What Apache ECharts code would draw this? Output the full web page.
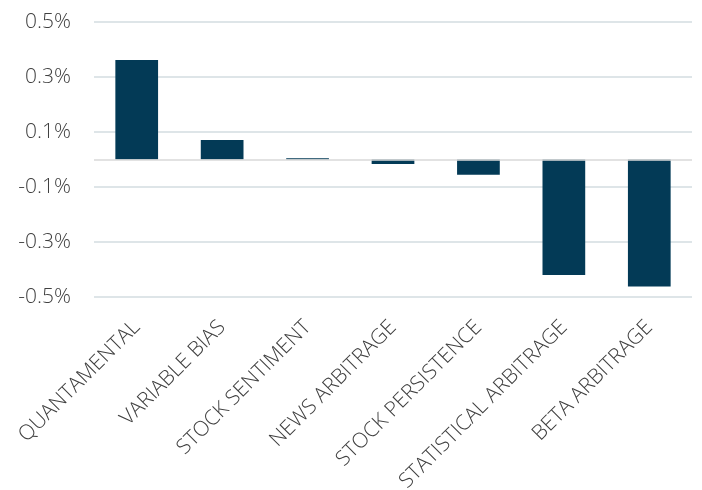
<!DOCTYPE html>
<html><head><meta charset="utf-8">
<script src="https://cdn.jsdelivr.net/npm/echarts@6/dist/echarts.min.js"></script>
<style>html,body{margin:0;padding:0;background:#fff}#c{width:702px;height:490px}</style>
</head><body><div id="c"></div>
<script>
const categories = ['QUANTAMENTAL','VARIABLE BIAS','STOCK SENTIMENT','NEWS ARBITRAGE','STOCK PERSISTENCE','STATISTICAL ARBITRAGE','BETA ARBITRAGE'];
const values = [0.362, 0.071, 0.005, -0.016, -0.055, -0.42, -0.462];
const yTicks = {min: -0.5, max: 0.5, interval: 0.2};

const chart = echarts.init(document.getElementById('c'));
chart.setOption({
  animation: false,
  grid: {left: 94, right: 10, top: 22, bottom: 193, containLabel: false, outerBoundsMode: 'none'},
  xAxis: {
    type: 'category', data: categories,
    axisLine: {show: false, onZero: false},
    axisTick: {show: false},
    axisLabel: {rotate: 45, interval: 0, margin: 27, hideOverlap: false,
      color: '#404040', fontFamily: 'Open Sans', fontWeight: 300, fontSize: 21}
  },
  yAxis: {
    type: 'value', min: yTicks.min, max: yTicks.max, interval: yTicks.interval,
    axisLine: {show: false}, axisTick: {show: false},
    axisLabel: {margin: 23, color: '#404040', fontFamily: 'Open Sans', fontWeight: 300, fontSize: 21,
      formatter: v => (Math.round(v * 10) / 10).toFixed(1) + '%'},
    splitLine: {lineStyle: {color: '#d3dce1', width: 1.5}}
  },
  series: [{
    type: 'bar', data: values, barWidth: '50%',
    itemStyle: {color: '#033a56'},
    markLine: {silent: true, symbol: 'none', label: {show: false},
      lineStyle: {color: '#d9d9d9', width: 1.5, type: 'solid'},
      data: [{yAxis: 0}]}
  }]
});
</script></body></html>
